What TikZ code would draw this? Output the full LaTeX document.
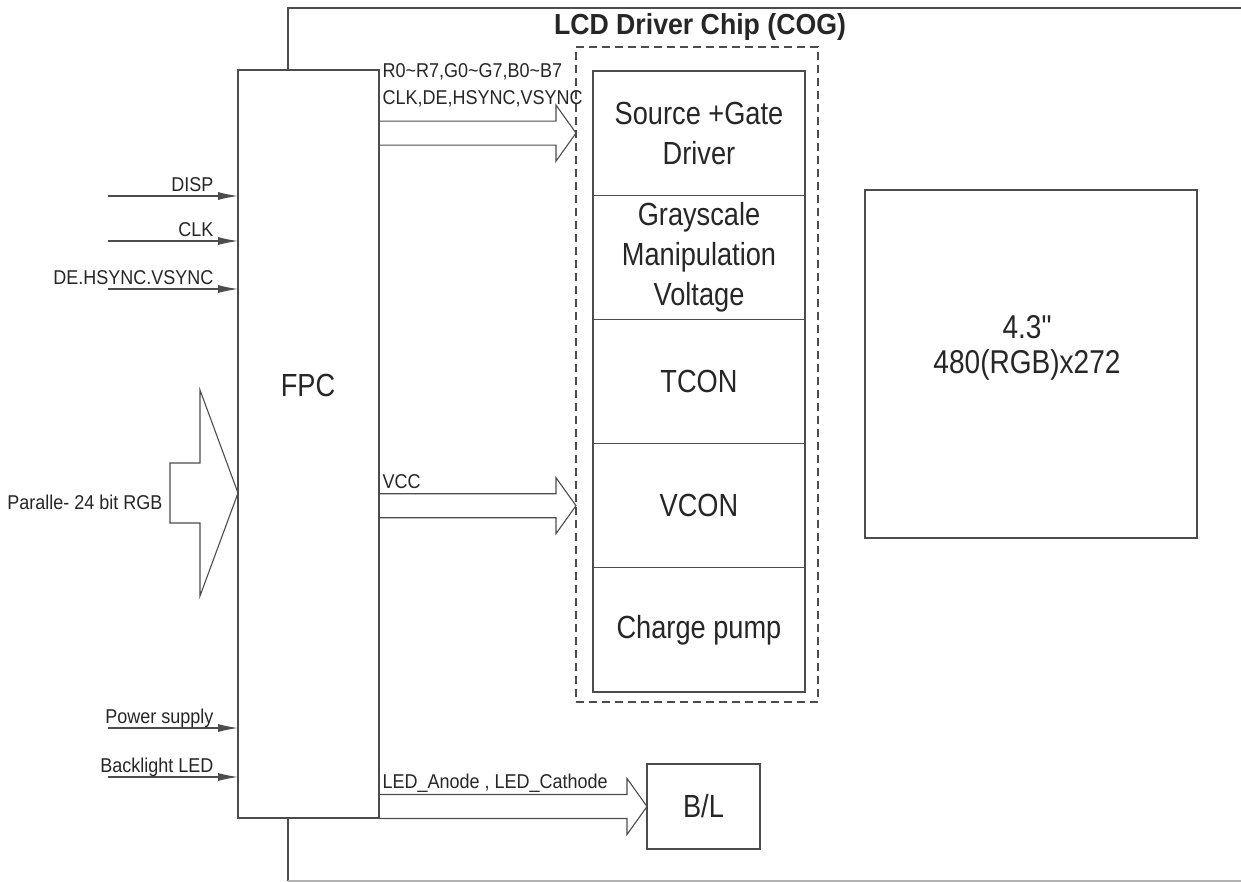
\documentclass[tikz,border=0pt]{standalone}
\usepackage{fontspec}
\setmainfont{Liberation Sans}
\newfontfamily\sigfont[FakeStretch=0.9]{Liberation Sans}
\newfontfamily\blkfont[FakeStretch=0.85]{Liberation Sans}
\newfontfamily\ttlfont[FakeStretch=0.92]{Liberation Sans}
\usetikzlibrary{arrows.meta, positioning, calc}

\begin{document}
\begin{tikzpicture}[x=1pt,y=-1pt,>={Latex[length=20pt,width=8pt]},
                line width=1.1pt,color=black!70,every node/.append style={text=black!85},
                box node/.style={rectangle,draw,fill=white,inner sep=0pt,outer sep=0pt},
                block node/.style={box node,minimum width=212pt,minimum height=124.2pt,
                  align=center,font=\blkfont\fontsize{32}{40}\selectfont},
                big text/.style={align=center,inner sep=0pt,font=\blkfont\fontsize{32}{36}\selectfont},
                sig label/.style={anchor=base east,inner sep=0pt,font=\sigfont\fontsize{20}{24}\selectfont},
                bus label/.style={anchor=base west,inner sep=0pt,font=\sigfont\fontsize{20}{24}\selectfont}]

  \useasboundingbox (0,0) rectangle (1241,882);

  % glass outline
  \draw (1241,8) -| (288,881);
  \draw[black!30] (288,881) -- (1241,881);
  \node[anchor=base,inner sep=0pt,font=\ttlfont\bfseries\fontsize{29}{34}\selectfont]
    (title) at (700,35) {LCD Driver Chip (COG)};

  % FPC
  \node[box node,minimum width=141pt,minimum height=748pt] (fpc) at (308.5,444) {};
  \node[big text] (fpclbl) at (308,385) {FPC};

  % driver chip
  \node[box node,fill=none,dash pattern=on 8pt off 5pt,minimum width=242pt,
    minimum height=655pt] (cog) at (697,374.5) {};
  \node[block node] (src) at (699,133.1) {Source +Gate\\Driver};
  \node[block node,below=0pt of src] (gsv) {Grayscale\\Manipulation\\Voltage};
  \node[block node,below=0pt of gsv] (tcon) {TCON};
  \node[block node,below=0pt of tcon] (vcon) {VCON};
  \node[block node,below=0pt of vcon] (cp) {Charge pump};

  % panel and backlight
  \node[box node,minimum width=332pt,minimum height=348pt] (lcd) at (1031,364) {};
  \node[big text,font=\blkfont\fontsize{33}{35}\selectfont] (lcdtxt)
    at ([xshift=-4pt,yshift=16pt]lcd.center) {4.3"\\480(RGB)x272};
  \node[box node,big text,minimum width=113pt,minimum height=85pt] (bl) at (703.5,806.5) {B/L};

  % inputs
  \coordinate (disp) at (108,196);
  \coordinate (clk) at (108,241);
  \coordinate (sync) at (108,289);
  \coordinate (pwr) at (108,728);
  \coordinate (led) at (108,777);
  \draw[->] (disp) -- (disp -| fpc.west) node[sig label,xshift=-24pt,yshift=4pt] {DISP};
  \draw[->] (clk) -- (clk -| fpc.west) node[sig label,xshift=-24pt,yshift=4pt] {CLK};
  \draw[->] (sync) -- (sync -| fpc.west) node[sig label,xshift=-24pt,yshift=4pt] {DE.HSYNC.VSYNC};
  \draw[->] (pwr) -- (pwr -| fpc.west) node[sig label,xshift=-24pt,yshift=5pt] {Power supply};
  \draw[->] (led) -- (led -| fpc.west) node[sig label,xshift=-24pt,yshift=5pt] {Backlight LED};

  % RGB bus into FPC
  \coordinate (rgbtip) at (fpc.west |- 0,493);
  \draw (rgbtip) -- ++(-38,-103) -- ++(0,73) -- ++(-30,0) -- ++(0,60) -- ++(30,0)
    -- ++(0,73) -- cycle;
  \node[sig label,anchor=east] (rgblbl) at (163,502) {Paralle- 24 bit RGB};

  % buses out of FPC
  \coordinate (bustip) at (cog.west |- src.center);
  \draw ($(fpc.east |- bustip)+(0,-12)$) -- ($(bustip)+(-20,-12)$) -- ++(0,-16) -- (bustip)
    -- ++(-20,28) -- ++(0,-16) -- ($(fpc.east |- bustip)+(0,12)$);
  \node[bus label] (buslbl1) at (382,78) {R0\textasciitilde R7,G0\textasciitilde G7,B0\textasciitilde B7};
  \node[bus label] (buslbl2) at (382,105) {CLK,DE,HSYNC,VSYNC};

  \coordinate (vcctip) at (cog.west |- vcon.center);
  \draw ($(fpc.east |- vcctip)+(0,-12)$) -- ($(vcctip)+(-20,-12)$) -- ++(0,-16) -- (vcctip)
    -- ++(-20,28) -- ++(0,-16) -- ($(fpc.east |- vcctip)+(0,12)$);
  \node[bus label] (vcclbl) at (382,488) {VCC};

  \coordinate (bltip) at (bl.west);
  \draw ($(fpc.east |- bltip)+(0,-12)$) -- ($(bltip)+(-20,-12)$) -- ++(0,-16) -- (bltip)
    -- ++(-20,28) -- ++(0,-16) -- ($(fpc.east |- bltip)+(0,12)$);
  \node[bus label] (bllbl) at (382,788) {LED\_Anode , LED\_Cathode};
\end{tikzpicture}
\end{document}
